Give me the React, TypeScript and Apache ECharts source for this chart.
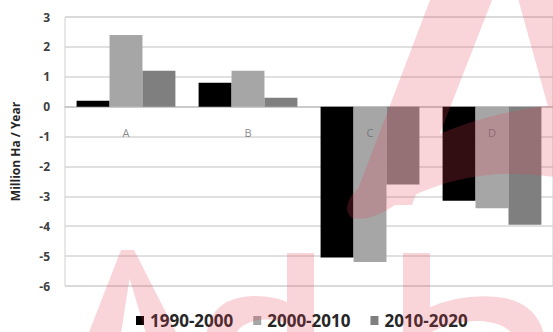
import React, { useEffect, useRef } from "react";
import * as echarts from "echarts";

const categories = ["A", "B", "C", "D"];
const seriesNames = ["1990-2000", "2000-2010", "2010-2020"];
const s1990 = [0.2, 0.8, -5.05, -3.15];
const s2000 = [2.4, 1.2, -5.2, -3.4];
const s2010 = [1.2, 0.3, -2.6, -3.95];
const labelBase = [0, 0, 0, 0];
const seriesColors = ["#000000", "#a6a6a6", "#7f7f7f"];

const WM_D =
  "M 432 -5 L 494 -5 L 412 205 L 352 205 Z " +
  "M 352 195 Q 420 120 560 104 L 560 178 Q 470 162 395 205 Q 370 222 352 218 Q 342 210 352 195 Z " +
  "M 517 -5 L 600 -5 L 600 110 L 549 110 Z " +
  "M 121 250 L 134 250 L 120 340 L 86 340 Z " +
  "M 121 250 L 134 250 L 180 340 L 148 340 Z " +
  "M 287 253 L 314 253 L 314 340 L 287 340 Z " +
  "M 206 340 Q 208 298 252 296 Q 278 296 290 304 L 290 325 Q 275 318 258 320 Q 236 324 234 340 Z " +
  "M 403 253 L 430 253 L 430 340 L 403 340 Z " +
  "M 428 308 Q 465 292 505 298 Q 540 306 545 340 L 515 340 Q 510 323 480 321 Q 450 320 428 334 Z";

echarts.graphic.registerShape("wmark", echarts.graphic.extendPath(WM_D, {}));

export default function App() {
  const ref = useRef<HTMLDivElement>(null);
  useEffect(() => {
    document.body.style.margin = "0";
    const chart = echarts.init(ref.current!, null, { renderer: "svg" });
    const font = "'Open Sans', 'Liberation Sans', sans-serif";
    const data = [s1990, s2000, s2010];
    chart.setOption({
      animation: false,
      backgroundColor: "#ffffff",
      textStyle: { fontFamily: font },
      grid: {
        left: 65,
        top: 17,
        width: 491,
        height: 269,
        show: true,
        borderColor: "#cfcfcf",
        borderWidth: 1,
        backgroundColor: "transparent",
      },
      legend: {
        data: seriesNames,
        left: 131,
        top: 307,
        icon: "rect",
        itemWidth: 8,
        itemHeight: 9,
        itemGap: 20,
        textStyle: { fontSize: 17, fontWeight: "bold", color: "#262626", fontFamily: font, padding: [0, 0, 0, 1] },
      },
      xAxis: {
        type: "category",
        data: categories,
        axisLine: { onZero: true, lineStyle: { color: "#c4c4c4", width: 1.5 } },
        axisTick: { show: false },
        axisLabel: { show: false },
        splitLine: { show: false },
      },
      yAxis: {
        type: "value",
        min: -6,
        max: 3,
        interval: 1,
        axisLine: { show: false },
        axisTick: { show: false },
        axisLabel: { color: "#404040", fontSize: 12, fontWeight: "bold", margin: 15, fontFamily: font },
        splitLine: { lineStyle: { color: "#d6d6d6", width: 1.5 } },
        name: "Million Ha / Year",
        nameLocation: "middle",
        nameGap: 44,
        nameTextStyle: { color: "#262626", fontSize: 12, fontWeight: "bold", fontFamily: font },
      },
      series: [
        ...seriesNames.map((n, i) => ({
          name: n,
          type: "bar",
          data: data[i],
          barGap: "0%",
          barCategoryGap: "19%",
          itemStyle: { color: seriesColors[i] },
        })),
        {
          name: "cat-labels",
          type: "scatter",
          data: labelBase,
          symbolSize: 0,
          silent: true,
          z: 5,
          label: {
            show: true,
            position: "bottom",
            distance: 20,
            formatter: (p: any) => p.name,
            color: "#6b6b6b",
            fontSize: 11,
            fontFamily: font,
          },
        },
      ],
      graphic: [
        {
          type: "wmark",
          x: 0,
          y: 0,
          silent: true,
          z: 100,
          style: { fill: "rgba(228, 60, 80, 0.22)" },
        },
      ],
    });
    return () => chart.dispose();
  }, []);
  return <div ref={ref} style={{ width: 553, height: 332 }} />;
}
